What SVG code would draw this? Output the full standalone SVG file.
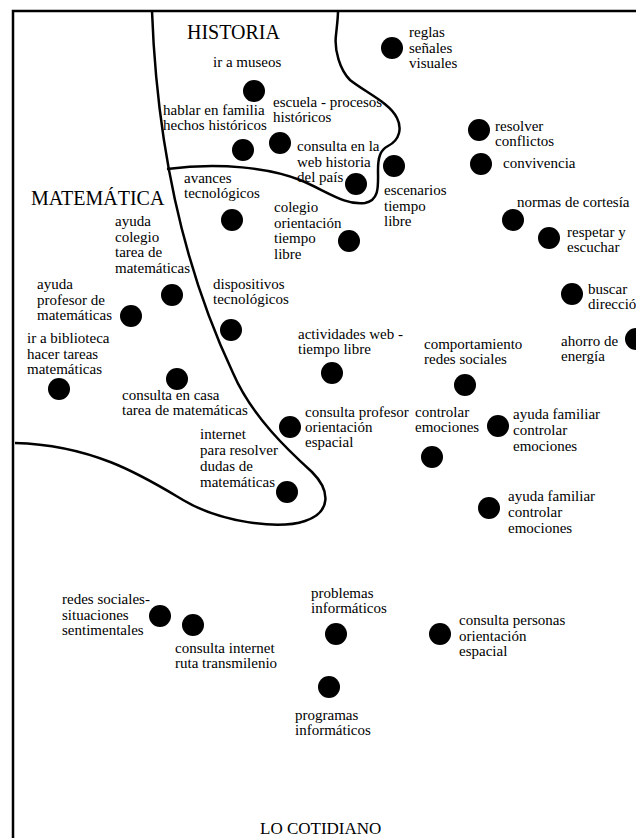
<svg xmlns="http://www.w3.org/2000/svg" width="636" height="838" viewBox="0 0 636 838">
<style>
.lbl{font-family:"Liberation Serif",serif;font-size:15px;fill:#000}
.title{font-family:"Liberation Serif",serif;font-size:20px;fill:#000}
.dot{fill:#000}
.bound{fill:none;stroke:#000;stroke-width:2.5}
</style>
<rect width="636" height="838" fill="#fff"/>
<g id="frame">
<path class="bound" d="M13,838 V11 H636" stroke-width="2.7"/>
</g>
<g id="regions">
<path class="bound" d="M152,11 C156,120 175,250 233,373 C252,417 290,452 312,472 C330,490 332,512 305,521 C278,530 220,522 183,500 C146,478 95,445 15,443"/>
<path class="bound" d="M167,169 C220,162 270,168 300,180 C325,190 345,206 365,203 C380,200 378,185 378,170 C378,158 380,150 388,146 C400,140 402,128 397,118 C390,103 365,92 350,80 C340,70 334,50 336,35 C337,25 338,18 338,11"/>
</g>
<g id="titles">
<text class="title" x="187" y="39">HISTORIA</text>
<text class="title" x="31" y="205">MATEMÁTICA</text>
<text class="title" x="260" y="834" style="font-size:17px">LO COTIDIANO</text>
</g>
<g id="n1"><circle class="dot" cx="254" cy="91" r="11"/><text class="lbl" x="213" y="67">ir a museos</text></g>
<g id="n2"><circle class="dot" cx="243" cy="150" r="11"/><text class="lbl" y="115"><tspan x="163">hablar en familia</tspan><tspan x="163" dy="15">hechos históricos</tspan></text></g>
<g id="n3"><circle class="dot" cx="280" cy="143" r="11"/><text class="lbl" y="107"><tspan x="273">escuela - procesos</tspan><tspan x="273" dy="15">históricos</tspan></text></g>
<g id="n4"><circle class="dot" cx="356" cy="184" r="11"/><text class="lbl" y="151"><tspan x="297">consulta en la</tspan><tspan x="297" dy="15.5">web historia</tspan><tspan x="297" dy="15.5">del país</tspan></text></g>
<g id="n5"><circle class="dot" cx="392" cy="48" r="11"/><text class="lbl" y="37"><tspan x="409">reglas</tspan><tspan x="409" dy="15.5">señales</tspan><tspan x="409" dy="15.5">visuales</tspan></text></g>
<g id="n6"><circle class="dot" cx="394" cy="166" r="11"/><text class="lbl" y="195"><tspan x="384">escenarios</tspan><tspan x="384" dy="15.5">tiempo</tspan><tspan x="384" dy="15.5">libre</tspan></text></g>
<g id="n7"><circle class="dot" cx="479" cy="130" r="11"/><text class="lbl" y="131"><tspan x="495">resolver</tspan><tspan x="495" dy="15">conflictos</tspan></text></g>
<g id="n8"><circle class="dot" cx="481" cy="164" r="11"/><text class="lbl" x="503" y="168">convivencia</text></g>
<g id="n9"><circle class="dot" cx="513" cy="220" r="11"/><text class="lbl" x="517" y="207">normas de cortesía</text></g>
<g id="n10"><circle class="dot" cx="549" cy="238" r="11"/><text class="lbl" y="237"><tspan x="567">respetar y</tspan><tspan x="567" dy="15">escuchar</tspan></text></g>
<g id="n11"><circle class="dot" cx="572" cy="294" r="11"/><text class="lbl" y="294"><tspan x="588">buscar</tspan><tspan x="588" dy="15">dirección</tspan></text></g>
<g id="n12"><circle class="dot" cx="636" cy="339" r="11"/><text class="lbl" y="346"><tspan x="561">ahorro de</tspan><tspan x="561" dy="15">energía</tspan></text></g>
<g id="n13"><circle class="dot" cx="349" cy="241" r="11"/><text class="lbl" y="212"><tspan x="274">colegio</tspan><tspan x="274" dy="15.5">orientación</tspan><tspan x="274" dy="15.5">tiempo</tspan><tspan x="274" dy="15.5">libre</tspan></text></g>
<g id="n14"><circle class="dot" cx="232" cy="220" r="11"/><text class="lbl" y="183"><tspan x="184">avances</tspan><tspan x="184" dy="15">tecnológicos</tspan></text></g>
<g id="n15"><circle class="dot" cx="172" cy="295" r="11"/><text class="lbl" y="226"><tspan x="115">ayuda</tspan><tspan x="115" dy="15.5">colegio</tspan><tspan x="115" dy="15.5">tarea de</tspan><tspan x="115" dy="15.5">matemáticas</tspan></text></g>
<g id="n16"><circle class="dot" cx="131" cy="316" r="11"/><text class="lbl" y="289"><tspan x="37">ayuda</tspan><tspan x="37" dy="15.5">profesor de</tspan><tspan x="37" dy="15.5">matemáticas</tspan></text></g>
<g id="n17"><circle class="dot" cx="231" cy="330" r="11"/><text class="lbl" y="289"><tspan x="213">dispositivos</tspan><tspan x="213" dy="15">tecnológicos</tspan></text></g>
<g id="n18"><circle class="dot" cx="59" cy="389" r="11"/><text class="lbl" y="343"><tspan x="27">ir a biblioteca</tspan><tspan x="27" dy="15.5">hacer tareas</tspan><tspan x="27" dy="15.5">matemáticas</tspan></text></g>
<g id="n19"><circle class="dot" cx="177" cy="379" r="11"/><text class="lbl" y="400"><tspan x="122">consulta en casa</tspan><tspan x="122" dy="15">tarea de matemáticas</tspan></text></g>
<g id="n20"><circle class="dot" cx="332" cy="373" r="11"/><text class="lbl" y="339"><tspan x="298">actividades web -</tspan><tspan x="298" dy="15">tiempo libre</tspan></text></g>
<g id="n21"><circle class="dot" cx="465" cy="385" r="11"/><text class="lbl" y="349"><tspan x="424">comportamiento</tspan><tspan x="424" dy="15">redes sociales</tspan></text></g>
<g id="n22"><circle class="dot" cx="290" cy="427" r="11"/><text class="lbl" y="417"><tspan x="305">consulta profesor</tspan><tspan x="305" dy="15">orientación</tspan><tspan x="305" dy="15">espacial</tspan></text></g>
<g id="n23"><circle class="dot" cx="432" cy="457" r="11"/><text class="lbl" y="417"><tspan x="415">controlar</tspan><tspan x="415" dy="15">emociones</tspan></text></g>
<g id="n24"><circle class="dot" cx="498" cy="426" r="11"/><text class="lbl" y="419"><tspan x="513">ayuda familiar</tspan><tspan x="513" dy="16">controlar</tspan><tspan x="513" dy="16">emociones</tspan></text></g>
<g id="n25"><circle class="dot" cx="489" cy="508" r="11"/><text class="lbl" y="501"><tspan x="508">ayuda familiar</tspan><tspan x="508" dy="16">controlar</tspan><tspan x="508" dy="16">emociones</tspan></text></g>
<g id="n26"><circle class="dot" cx="287" cy="492" r="11"/><text class="lbl" y="439"><tspan x="200">internet</tspan><tspan x="200" dy="16">para resolver</tspan><tspan x="200" dy="16">dudas de</tspan><tspan x="200" dy="16">matemáticas</tspan></text></g>
<g id="n27"><circle class="dot" cx="160" cy="616" r="11"/><text class="lbl" y="604"><tspan x="62">redes sociales-</tspan><tspan x="62" dy="15.5">situaciones</tspan><tspan x="62" dy="15.5">sentimentales</tspan></text></g>
<g id="n28"><circle class="dot" cx="193" cy="625" r="11"/><text class="lbl" y="653"><tspan x="175">consulta internet</tspan><tspan x="175" dy="15">ruta transmilenio</tspan></text></g>
<g id="n29"><circle class="dot" cx="336" cy="634" r="11"/><text class="lbl" y="598"><tspan x="311">problemas</tspan><tspan x="311" dy="15">informáticos</tspan></text></g>
<g id="n30"><circle class="dot" cx="440" cy="634" r="11"/><text class="lbl" y="625"><tspan x="459">consulta personas</tspan><tspan x="459" dy="15.5">orientación</tspan><tspan x="459" dy="15.5">espacial</tspan></text></g>
<g id="n31"><circle class="dot" cx="329" cy="687" r="11"/><text class="lbl" y="720"><tspan x="295">programas</tspan><tspan x="295" dy="15">informáticos</tspan></text></g>
</svg>
